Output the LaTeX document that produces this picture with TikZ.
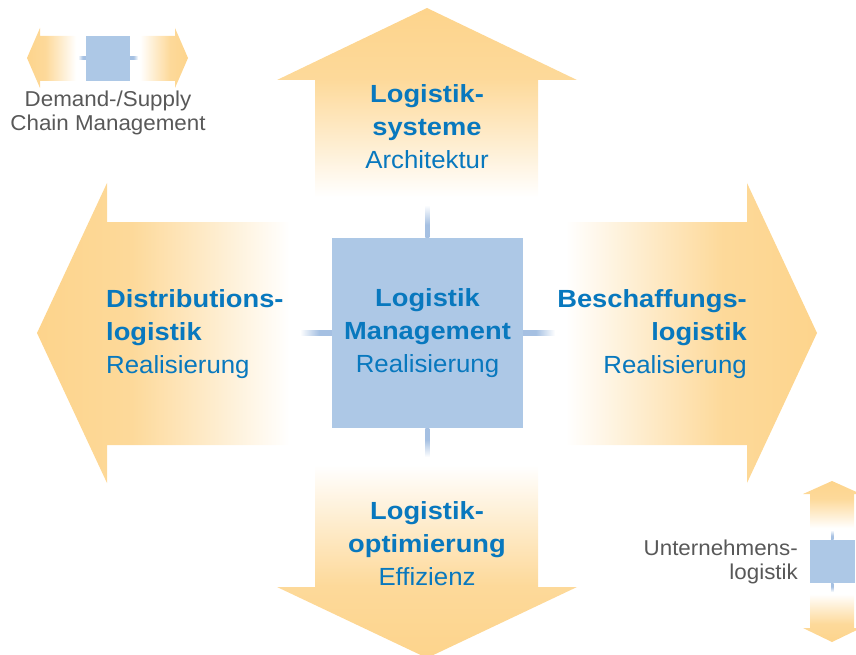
\documentclass[tikz,border=0pt]{standalone}
\usepackage{fontspec}
\setmainfont{Liberation Sans}[FakeStretch=1.04]
\newfontfamily\boldw{Liberation Sans}[FakeStretch=1.1]
\usetikzlibrary{calc}
\definecolor{orng}{RGB}{253,212,140}
\definecolor{boxblue}{RGB}{173,200,230}
\definecolor{lnk}{RGB}{165,192,226}
\definecolor{txtblue}{RGB}{8,120,190}
\definecolor{txtgray}{RGB}{88,88,88}
\pgfdeclareverticalshading{arrowfade}{100bp}{color(0bp)=(white); color(27bp)=(white); color(42bp)=(orng!45!white); color(57bp)=(orng!88!white); color(75bp)=(orng); color(100bp)=(orng)}
\pgfdeclareverticalshading{linkfade}{100bp}{color(0bp)=(lnk); color(25bp)=(lnk); color(45bp)=(lnk); color(75bp)=(white); color(100bp)=(white)}
\newcommand\lbold[1]{{\boldw\bfseries #1}}
\tikzset{
  bluetext/.style={text=txtblue, align=center, inner sep=0pt, font=\fontsize{24.8}{33}\selectfont},
  graytext/.style={text=txtgray, inner sep=0pt, font=\fontsize{21.5}{24}\selectfont},
  fadearrow/.style={shading=arrowfade},
  linkbar/.style={shading=linkfade},
  bluesquare/.style={fill=boxblue, draw=none, inner sep=0pt}
}
\begin{document}
\begin{tikzpicture}[x=1pt,y=-1pt]
\useasboundingbox (0,0) rectangle (856,655);
% big arrows
\shade[fadearrow, shading angle=0] (315,205) -- (315,80) -- (277,80) -- (427,8) -- (577,80) -- (538,80) -- (538,205) -- cycle;
\coordinate (topend) at (427,205);
\shade[fadearrow, shading angle=90] (300,222) -- (107,222) -- (107,183) -- (37,333) -- (107,483) -- (107,445) -- (300,445) -- cycle;
\coordinate (leftend) at (300,333);
\shade[fadearrow, shading angle=-90] (555,222) -- (747,222) -- (747,183) -- (817,333) -- (747,483) -- (747,445) -- (555,445) -- cycle;
\coordinate (rightend) at (555,333);
\shade[fadearrow, shading angle=180] (315,457) -- (315,587) -- (277,587) -- (427,658) -- (577,587) -- (538,587) -- (538,457) -- cycle;
\coordinate (botend) at (427,457);
% centre box
\node[bluesquare, bluetext, minimum width=191pt, minimum height=190pt] (box) at (427.5,333) {\lbold{Logistik}\\\lbold{Management}\\Realisierung};
% connectors
\shade[linkbar, shading angle=0] ($(box.north)+(-2.25,0)$) rectangle ($(topend)+(2.25,0)$);
\shade[linkbar, shading angle=180] ($(box.south)+(-2.25,0)$) rectangle ($(botend)+(2.25,0)$);
\shade[linkbar, shading angle=90] ($(box.west)+(0,-2.25)$) rectangle ($(leftend)+(0,2.25)$);
\shade[linkbar, shading angle=-90] ($(box.east)+(0,-2.25)$) rectangle ($(rightend)+(0,2.25)$);
% labels
\node[bluetext] (tsys) at (427,126.5) {\lbold{Logistik-}\\\lbold{systeme}\\Architektur};
\node[bluetext, align=left, anchor=west] (tdist) at (106,334.5) {\lbold{Distributions-}\\\lbold{logistik}\\Realisierung};
\node[bluetext, align=right, anchor=east] (tbes) at (747,334.5) {\lbold{Beschaffungs-}\\\lbold{logistik}\\Realisierung};
\node[bluetext] (topt) at (427,543.5) {\lbold{Logistik-}\\\lbold{optimierung}\\Effizienz};
% legend top left
\shade[fadearrow, shading angle=90] (78,36) -- (40,36) -- (40,28) -- (27,58) -- (40,88) -- (40,81) -- (78,81) -- cycle;
\coordinate (l1a) at (78,58);
\shade[fadearrow, shading angle=-90] (138,36) -- (175,36) -- (175,28) -- (188,58) -- (175,88) -- (175,81) -- (138,81) -- cycle;
\coordinate (l1b) at (138,58);
\node[bluesquare, minimum width=44pt, minimum height=45pt] (sq1) at (108,58.5) {};
\shade[linkbar, shading angle=90] ($(sq1.west)+(0,-1.5)$) rectangle ($(l1a)+(0,1.5)$);
\shade[linkbar, shading angle=-90] ($(sq1.east)+(0,-1.5)$) rectangle ($(l1b)+(0,1.5)$);
\node[graytext, align=center] (tdsc) at (108,113) {Demand-/Supply\\Chain Management};
% legend bottom right
\shade[fadearrow, shading angle=0] (810,530) -- (810,494) -- (803,494) -- (832,481) -- (861,494) -- (854,494) -- (854,530) -- cycle;
\coordinate (l2a) at (832,530);
\shade[fadearrow, shading angle=180] (810,592) -- (810,628) -- (803,628) -- (832,642) -- (861,628) -- (854,628) -- (854,592) -- cycle;
\coordinate (l2b) at (832,592);
\node[bluesquare, minimum width=45pt, minimum height=43pt] (sq2) at (832.5,561.5) {};
\shade[linkbar, shading angle=0] ($(sq2.north)+(-1.5,0)$) rectangle ($(l2a)+(1.5,0)$);
\shade[linkbar, shading angle=180] ($(sq2.south)+(-1.5,0)$) rectangle ($(l2b)+(1.5,0)$);
\node[graytext, align=right, anchor=east] (tunt) at (798,562) {Unternehmens-\\logistik};
\end{tikzpicture}
\end{document}
